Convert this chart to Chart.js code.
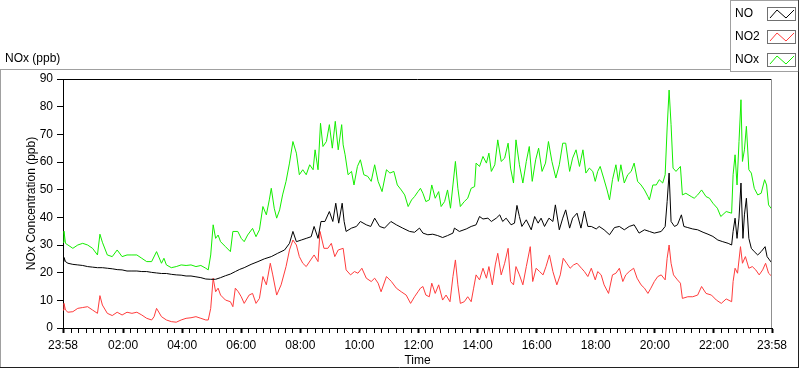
<!DOCTYPE html>
<html>
<head>
<meta charset="utf-8">
<script src="https://cdn.jsdelivr.net/npm/chart.js@4"></script>
<style>
  html, body { margin: 0; padding: 0; background: #fff; }
  #wrap { width: 800px; height: 369px; }
</style>
</head>
<body>
<div id="wrap"><canvas id="noxChart" width="800" height="369"></canvas></div>
<script>
// minutes since 23:58 (0 .. 1440) and readings in ppb
let noTime = [0,2,5,10,20,30,40,50,60,70,80,90,100,110,120,130,140,150,160,170,180,190,200,210,220,230,240,250,260,270,280,290,300,310,320,330,340,350,359,368,382,396,409,423,436,450,460,467,474,484,494,504,510,518,524,532,541,548,554,560,567,571,575,586,596,604,616,625,633,643,653,666,677,690,704,714,724,731,741,751,761,771,781,792,795,805,819,829,839,846,853,863,870,880,887,893,900,910,917,922,927,932,941,951,958,965,971,978,987,995,1000,1008,1015,1021,1029,1035,1044,1052,1059,1066,1073,1083,1089,1099,1110,1120,1130,1140,1150,1160,1170,1181,1191,1201,1215,1223,1227,1231,1235,1242,1248,1256,1261,1269,1279,1289,1300,1310,1320,1330,1340,1351,1358,1361,1365,1369,1373,1377,1381,1384,1388,1393,1398,1404,1411,1418,1426,1430,1435,1440]
let noValues = [24,25.5,24,23.4,23,22.8,22.6,22.2,22,21.8,21.8,21.6,21.4,21.1,21,20.6,20.6,20.6,20.4,20.4,20.1,19.9,19.7,19.7,19.4,19.2,19.1,18.8,18.8,18.5,18.2,17.7,17.6,17.6,18.2,18.9,19.5,20.4,21.2,21.8,23,24,25,25.8,27,28.2,30.6,34.9,31.2,31.8,32.4,33,36.7,32.4,38.5,38.5,42.1,38.5,45.1,37.9,45.1,38.5,34.9,36.1,36.7,38.5,37.3,36.7,39.7,36.7,36.1,38.5,37.3,36.1,34.9,34.6,36.1,34.3,33.7,33.9,33.4,32.7,33.4,34.3,36.1,34.9,35.8,36.7,37.3,40.3,39.4,39.7,38.5,39.7,40.9,38.5,39.7,37.3,37.9,44.3,40.3,36.7,39.1,35.5,40.3,37.9,39.7,36.7,39.7,38.5,44.5,35.5,39.7,42.7,36.1,39.7,41.5,36.1,42.3,36.7,36.7,35.8,36.7,35.5,33.7,36.3,36.7,35.5,36.7,37.3,34.3,35.5,34.9,34.3,34.9,36.7,45.7,56,38.5,36.7,37.3,40.9,36.7,36.3,35.8,35.5,34.6,33.9,33.1,31.8,31.2,30.6,30,34.9,39.7,32.4,39.7,52.4,32.4,40.9,46.9,32.4,28.8,27.6,26.4,27.6,29.4,25.8,24.6,23.4]

let no2Time = [0,2,5,10,20,30,40,50,60,70,75,80,90,100,110,120,130,140,150,160,170,180,185,190,200,210,220,230,240,250,260,270,280,290,295,300,305,310,315,320,330,340,345,350,356,362,368,378,385,392,399,406,413,421,426,434,443,453,460,467,474,480,487,494,503,510,518,522,530,538,545,552,559,569,575,584,592,599,607,616,626,633,640,646,657,667,677,687,697,706,714,721,726,731,737,744,749,756,763,771,778,786,792,797,802,807,815,822,829,834,839,846,853,860,865,872,878,883,890,897,904,909,915,920,927,934,941,949,954,961,968,975,981,988,995,1003,1010,1016,1023,1030,1037,1044,1053,1059,1066,1073,1081,1086,1093,1099,1108,1116,1123,1130,1137,1143,1150,1159,1166,1174,1181,1188,1194,1201,1208,1215,1223,1227,1231,1235,1240,1248,1254,1258,1269,1279,1289,1297,1306,1317,1327,1337,1347,1358,1361,1365,1370,1376,1380,1386,1393,1400,1407,1414,1421,1427,1433,1440]
let no2Values = [6.5,8.9,6.5,5.7,5.9,7.1,7.4,7.7,6.5,5.3,11.7,8.3,5.3,4.5,5.7,4.7,5.7,5.3,5.7,4.7,3.5,2.9,4.1,7.1,4.1,2.9,2.3,2.1,2.9,3.5,3.7,4.1,3.5,2.9,2.9,7.1,18,13.1,14.4,11.9,10.1,9.5,7.7,14.4,13.1,11.3,8.9,11.9,12.5,8.9,10.7,18.6,15.6,23.4,19.2,11.9,15.6,22.2,28.2,31.8,30,25.8,23.4,22.2,24.6,26.4,24,34.9,28.8,28.8,30.6,25.8,28.2,28.8,21,19.2,20.4,19.8,21.6,18,16.8,18,16.2,13.1,18.6,16.8,14.4,13.1,11.9,8.9,11.3,13.1,14.4,15,11.9,11.3,16.2,12.5,15.6,10.1,11.9,9.5,18.6,24.6,15.6,8.9,9.5,11.3,9.5,14.4,19.2,17.4,21.6,18,22.2,15.6,22.8,27,19.2,23.4,28.8,16.8,15.6,22.2,19.2,15.6,22.2,29.4,16.8,21.6,20.4,19.2,22.2,26.4,20.4,15.6,19.2,25.2,23.4,21.6,22.8,23.4,21.6,20.4,18.6,21.6,17.4,20.4,19.2,15.6,12.5,19.2,19.8,21.6,16.8,19.2,20.4,21.6,18,15.6,14.4,12.5,14.4,16.8,18.6,19.2,17.4,25.2,30,23.4,19.2,17.4,16.2,10.7,11.3,11.3,11.9,15,12.5,11.9,10.1,8.9,10.5,9.5,16.8,21.6,19.8,29.4,23.4,25.8,21.6,22.2,21,19.2,21,23.4,19.8,18.6]

let noxTime = [0,2,5,10,20,30,40,50,60,70,75,80,90,100,110,120,130,140,150,160,170,180,190,200,205,210,220,230,240,250,260,270,280,290,295,300,305,310,315,320,330,340,345,355,362,368,375,385,392,399,406,413,419,423,429,434,440,446,453,460,467,474,480,487,494,501,508,512,518,523,528,535,541,547,553,559,566,569,573,579,586,591,598,604,611,619,626,633,640,648,657,664,672,679,687,694,701,708,714,721,726,731,737,744,749,756,763,768,775,781,787,792,797,802,807,815,822,829,836,839,846,853,860,865,870,877,883,890,897,904,909,915,920,927,934,941,947,953,960,966,973,980,986,993,1001,1008,1015,1021,1029,1035,1042,1049,1056,1062,1069,1076,1081,1086,1091,1098,1105,1110,1116,1123,1128,1133,1140,1147,1154,1160,1167,1174,1181,1188,1191,1198,1205,1211,1218,1223,1227,1231,1235,1239,1245,1254,1258,1265,1276,1282,1289,1297,1306,1313,1320,1329,1336,1347,1358,1361,1365,1369,1373,1377,1380,1384,1388,1393,1398,1404,1411,1418,1425,1429,1433,1438,1440]
let noxValues = [31,35,30.6,30,28.8,30,30.6,30,28.8,26.4,33.9,31,26.4,25.8,28.2,25.8,26.4,26.4,26.4,25.2,24,24,27.6,23.4,25.2,22.8,21.8,22.2,22.8,22.6,22.8,22.2,22.6,21.6,21,26.4,37.3,32.4,33.6,31.2,29.4,27.6,34.9,34.9,32.4,31.2,33.6,36,33,35.5,43.9,40.9,46.3,50.5,43.3,39.7,42.7,48.1,53,59.6,67.4,63.2,55.4,57.2,55.4,59,57.2,64.4,57.2,74,65.6,67.4,73.5,65,74.7,64.4,73.5,66.2,62.6,55.4,56.6,51.7,58.4,60.8,55.4,54.8,53,59,53,49.3,57.2,56,56.6,51.7,49.9,48.1,43.9,46.3,47.5,49.3,50.5,48.7,45.7,46.3,51.7,46.9,49.3,43.9,45.7,49.9,43.3,51.7,60.2,50.5,43.9,45.7,46.9,50.5,51.1,59.6,58.4,62,59.6,63.2,56.6,59,68,60.2,61.4,66.8,57.8,52.4,68,59,52.4,60.2,65.6,53,60.8,65,56.6,59.6,67.4,60.2,54.2,59,66.8,66.8,56.6,61.4,64.4,58.4,64.4,56,57.8,56.6,53,56.6,58.4,54.2,49.9,46.3,53.6,59,53,59,52.4,55.4,56.6,59.6,53,51.7,49.9,47.5,46.3,51.7,51.7,53.6,52.4,55.4,72.3,86,73.5,57.8,56.6,58.4,48.1,48.7,47.5,46.9,48.1,49.9,47.5,46.9,45.1,43.3,40.3,42.1,41.5,55.4,62.6,51.7,67.4,82.5,60.2,64.4,72.9,57.2,56,50.5,48.1,48.7,53.6,51.7,44.5,43.3,44]

let seriesNames = ["NO", "NO2", "NOx"]
let seriesColors = ["#000000", "#ff3c3c", "#14ee00"]
let yTicks = [0, 10, 20, 30, 40, 50, 60, 70, 80, 90]
let xLabelMinutes = [0, 122, 242, 362, 482, 602, 722, 842, 962, 1082, 1202, 1322, 1440]

function pairUp(times, values) {
    return times.map((t, i) => ({x: t, y: values[i]}))
}

function clockLabel(m) {
    if (m === 0 || m === 1440) return "23:58"
    let total = (m - 2) / 60
    let h = Math.floor(total)
    return String(h).padStart(2, "0") + ":00"
}

Chart.defaults.font.family = "'Liberation Sans', Arial, sans-serif"
Chart.defaults.font.size = 12
Chart.defaults.color = "#000"

// outer frame, plot border and the boxed legend at the top right
let framePlugin = {
    id: "frame",
    beforeDraw(chart) {
        let ctx = chart.ctx
        ctx.save()
        ctx.fillStyle = "#fff"
        ctx.fillRect(0, 0, chart.width, chart.height)
        ctx.restore()
    },
    afterDraw(chart) {
        let ctx = chart.ctx
        let a = chart.chartArea
        ctx.save()
        ctx.lineWidth = 1
        // graph frame
        ctx.strokeStyle = "#a0a0a0"
        ctx.beginPath()
        ctx.moveTo(0, 69.5); ctx.lineTo(730, 69.5)
        ctx.moveTo(0.5, 69); ctx.lineTo(0.5, 368)
        ctx.stroke()
        ctx.strokeStyle = "#202020"
        ctx.beginPath()
        ctx.moveTo(0, 367.5); ctx.lineTo(799, 367.5)
        ctx.moveTo(798.5, 72); ctx.lineTo(798.5, 368)
        ctx.stroke()
        // plot border top / right
        ctx.strokeStyle = "#000"
        ctx.beginPath()
        ctx.moveTo(Math.round(a.left), Math.round(a.top) + 0.5)
        ctx.lineTo(Math.round(a.right), Math.round(a.top) + 0.5)
        ctx.stroke()
        ctx.strokeStyle = "#909090"
        ctx.beginPath()
        ctx.moveTo(Math.round(a.right) - 0.5, Math.round(a.top))
        ctx.lineTo(Math.round(a.right) - 0.5, Math.round(a.bottom))
        ctx.stroke()
        // legend box
        ctx.fillStyle = "#fff"
        ctx.fillRect(730, 0, 70, 72)
        ctx.strokeStyle = "#a0a0a0"
        ctx.beginPath()
        ctx.moveTo(730.5, 0); ctx.lineTo(730.5, 72)
        ctx.moveTo(730, 71.5); ctx.lineTo(799, 71.5)
        ctx.moveTo(730, 0.5); ctx.lineTo(799, 0.5)
        ctx.stroke()
        ctx.strokeStyle = "#404040"
        ctx.beginPath()
        ctx.moveTo(798.5, 0); ctx.lineTo(798.5, 72)
        ctx.stroke()
        ctx.font = "12px 'Liberation Sans', Arial, sans-serif"
        ctx.textBaseline = "middle"
        ctx.textAlign = "left"
        seriesNames.forEach((name, i) => {
            let y0 = 7 + 23 * i
            ctx.fillStyle = "#000"
            ctx.fillText(name, 735, y0 + 7)
            ctx.strokeStyle = "#707070"
            ctx.strokeRect(767.5, y0 + 0.5, 28, 13)
            ctx.strokeStyle = seriesColors[i]
            ctx.beginPath()
            ctx.moveTo(770, y0 + 11)
            ctx.lineTo(777, y0 + 3)
            ctx.lineTo(786, y0 + 11)
            ctx.lineTo(794, y0 + 3)
            ctx.stroke()
        })
        ctx.restore()
    }
}

let canvasElement = document.getElementById("noxChart")
let config = {
    type: "line",
    data: {
        datasets: [
            { label: seriesNames[0], data: pairUp(noTime, noValues), borderColor: seriesColors[0] },
            { label: seriesNames[1], data: pairUp(no2Time, no2Values), borderColor: seriesColors[1] },
            { label: seriesNames[2], data: pairUp(noxTime, noxValues), borderColor: seriesColors[2] },
        ],
    },
    options: {
        responsive: false,
        animation: false,
        devicePixelRatio: 1,
        layout: { padding: { left: 5, right: 28, top: 0, bottom: 0 } },
        elements: {
            line: { borderWidth: 1, tension: 0, fill: false },
            point: { radius: 0 },
        },
        plugins: {
            legend: { display: false },
            tooltip: { enabled: false },
            title: {
                display: true,
                text: "NOx (ppb)",
                align: "start",
                color: "#000",
                font: { size: 12, weight: "normal" },
                padding: { top: 51, bottom: 13.6 },
            },
        },
        scales: {
            x: {
                type: "linear",
                min: 0,
                max: 1440,
                afterFit(scale) { scale.height = 41 },
                afterBuildTicks(scale) {
                    let t = [{value: 0}]
                    for (let m = 17; m < 1440; m += 15) t.push({value: m})
                    t.push({value: 1440})
                    scale.ticks = t
                },
                border: { color: "#000", width: 1 },
                grid: {
                    drawOnChartArea: false,
                    tickLength: 5,
                    tickColor: "#000",
                    tickWidth: (c) => xLabelMinutes.includes(c.tick && c.tick.value) ? 2 : 1,
                },
                ticks: {
                    autoSkip: false,
                    maxRotation: 0,
                    padding: 5,
                    color: "#000",
                    callback: (v) => xLabelMinutes.includes(v) ? clockLabel(v) : "",
                },
                title: { display: true, text: "Time", color: "#000", padding: { top: 0, bottom: 1 } },
            },
            y: {
                min: 0,
                max: 90,
                afterFit(scale) { scale.width = 58 },
                afterBuildTicks(scale) { scale.ticks = yTicks.map(v => ({value: v})) },
                border: { color: "#000", width: 1 },
                grid: { drawOnChartArea: false, tickLength: 6, tickColor: "#000" },
                ticks: { padding: 4, color: "#000" },
                title: { display: true, text: "NOx Concentration (ppb)", color: "#000", padding: { top: 19, bottom: 0 } },
            },
        },
    },
    plugins: [framePlugin],
}
let noxChart = new Chart(canvasElement, config)
</script>
</body>
</html>
